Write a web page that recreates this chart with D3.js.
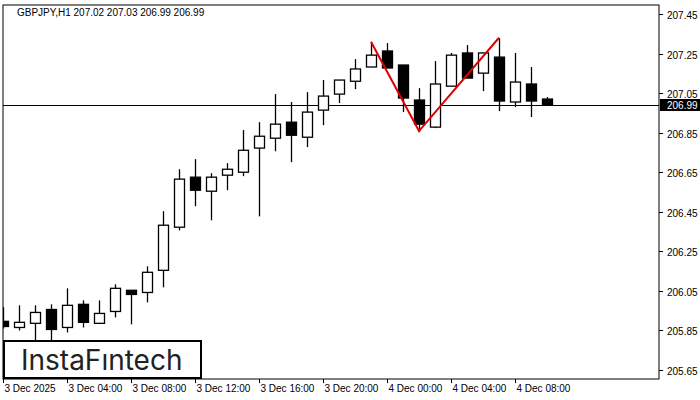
<!DOCTYPE html>
<html>
<head>
<meta charset="utf-8">
<script src="https://cdn.jsdelivr.net/npm/d3@7"></script>
<style>
  body { margin: 0; background: #fff; }
  text { font-family: "Liberation Sans", Arial, sans-serif; }
</style>
</head>
<body>
<div id="chart"></div>
<script>
// GBPJPY H1 candles, 3 Dec 00:00 onwards
const opens  = [205.896, 205.865, 205.886, 205.956, 205.865, 205.982, 205.886, 205.946, 206.053, 206.042,
                206.154, 206.372, 206.625, 206.554, 206.635, 206.650, 206.772, 206.822, 206.903, 206.827,
                206.964, 207.045, 207.110, 207.182, 207.263, 207.192, 207.015, 206.878, 207.085, 207.253,
                207.151, 207.232, 207.005, 207.096, 207.02];
const highs  = [205.967, 205.977, 205.977, 205.982, 206.063, 206.002, 206.002, 206.083, 206.053, 206.174,
                206.453, 206.665, 206.716, 206.645, 206.696, 206.863, 206.903, 207.045, 207.005, 207.055,
                207.116, 207.116, 207.222, 207.308, 207.303, 207.192, 207.075, 207.212, 207.253, 207.293,
                207.253, 207.328, 207.253, 207.182, 207.03];
const lows   = [205.860, 205.850, 205.800, 205.774, 205.840, 205.865, 205.886, 205.916, 205.881, 205.992,
                206.068, 206.356, 206.478, 206.407, 206.559, 206.630, 206.427, 206.756, 206.701, 206.777,
                206.888, 207.000, 207.070, 207.182, 207.177, 206.954, 206.853, 206.873, 207.085, 207.126,
                207.060, 206.959, 206.979, 206.929, 206.99];
const closes = [205.870, 205.891, 205.941, 205.855, 205.977, 205.891, 205.936, 206.063, 206.032, 206.144,
                206.382, 206.615, 206.559, 206.625, 206.665, 206.761, 206.832, 206.893, 206.837, 206.954,
                207.035, 207.116, 207.172, 207.242, 207.177, 207.025, 206.893, 207.096, 207.242, 207.126,
                207.253, 207.010, 207.106, 207.010, 206.99];
const priceTicks = [207.45, 207.25, 207.05, 206.85, 206.65, 206.45, 206.25, 206.05, 205.85, 205.65];
const timeLabels = ["3 Dec 2025", "3 Dec 04:00", "3 Dec 08:00", "3 Dec 12:00", "3 Dec 16:00",
                    "3 Dec 20:00", "4 Dec 00:00", "4 Dec 04:00", "4 Dec 08:00"];
// double top pattern: [bar index, price]
const patternIdx = [23, 26, 31];
const patternPrice = [207.31, 206.858, 207.33];
const lastPrice = 206.99;

const W = 700, H = 400;
const plot = {left: 3, right: 659, top: 5, bottom: 379};

const svg = d3.select("#chart").append("svg").attr("width", W).attr("height", H);

const x = d3.scaleLinear().domain([0, 1]).range([3, 19]);
const y = d3.scaleLinear().domain([205.65, 207.45]).range([370, 14]);

// frame
svg.append("rect")
    .attr("x", plot.left).attr("y", plot.top)
    .attr("width", plot.right - plot.left).attr("height", plot.bottom - plot.top)
    .attr("fill", "none").attr("stroke", "#000");

const g = svg.append("g");
g.append("clipPath").attr("id", "clip").append("rect")
    .attr("x", plot.left).attr("y", plot.top)
    .attr("width", plot.right - plot.left).attr("height", plot.bottom - plot.top);
const plotG = g.append("g").attr("clip-path", "url(#clip)");

// current price line
plotG.append("line")
    .attr("x1", plot.left).attr("x2", plot.right)
    .attr("y1", Math.round(y(lastPrice)) + 0.5).attr("y2", Math.round(y(lastPrice)) + 0.5)
    .attr("stroke", "#000");

// candles
const idx = d3.range(opens.length);
const cg = plotG.selectAll(".candle").data(idx).join("g");
cg.append("line")
    .attr("x1", i => Math.round(x(i)) + 0.5).attr("x2", i => Math.round(x(i)) + 0.5)
    .attr("y1", i => y(highs[i])).attr("y2", i => y(lows[i]))
    .attr("stroke", "#000").attr("stroke-width", 1.3);
cg.append("rect")
    .attr("x", i => Math.round(x(i)) - 4.5)
    .attr("y", i => y(Math.max(opens[i], closes[i])))
    .attr("width", 10)
    .attr("height", i => Math.max(1, Math.abs(y(opens[i]) - y(closes[i]))))
    .attr("fill", i => closes[i] >= opens[i] ? "#fff" : "#000")
    .attr("stroke", "#000").attr("stroke-width", 1.3);

// pattern
plotG.append("path")
    .datum(patternIdx.map((d, k) => [x(d), y(patternPrice[k])]))
    .attr("d", d3.line())
    .attr("fill", "none").attr("stroke", "#e00000").attr("stroke-width", 2);

// right axis
const yAxis = svg.append("g");
priceTicks.forEach(p => {
    const yy = Math.round(y(p)) + 0.5;
    yAxis.append("line").attr("x1", plot.right).attr("x2", plot.right + 4)
        .attr("y1", yy).attr("y2", yy).attr("stroke", "#000");
    yAxis.append("text").attr("x", plot.right + 8).attr("y", yy + 4)
        .attr("font-size", 10).text(p.toFixed(2));
});
const ly = Math.round(y(lastPrice));
svg.append("rect").attr("x", plot.right + 1).attr("y", ly - 6)
    .attr("width", 40).attr("height", 12).attr("fill", "#000");
svg.append("text").attr("x", plot.right + 8).attr("y", ly + 4)
    .attr("font-size", 10).attr("fill", "#fff").text(lastPrice.toFixed(2));

// bottom axis
timeLabels.forEach((t, k) => {
    const xx = Math.round(x(k * 4)) + 0.5;
    svg.append("line").attr("x1", xx).attr("x2", xx)
        .attr("y1", plot.bottom).attr("y2", plot.bottom + 4).attr("stroke", "#000");
    svg.append("text").attr("x", xx + 1).attr("y", plot.bottom + 13)
        .attr("font-size", 10).text(t);
});

// title
svg.append("text").attr("x", 17).attr("y", 16).attr("font-size", 10)
    .text("GBPJPY,H1  207.02 207.03 206.99 206.99");

// logo
svg.append("rect").attr("x", 4).attr("y", 341).attr("width", 197).attr("height", 37)
    .attr("fill", "#fff").attr("stroke", "#000").attr("stroke-width", 2);
svg.append("text").attr("x", 21).attr("y", 370).attr("font-size", 28)
    .attr("fill", "#222").style("font-family", "Inter, 'Open Sans', sans-serif")
    .text("InstaFıntech");
</script>
</body>
</html>
